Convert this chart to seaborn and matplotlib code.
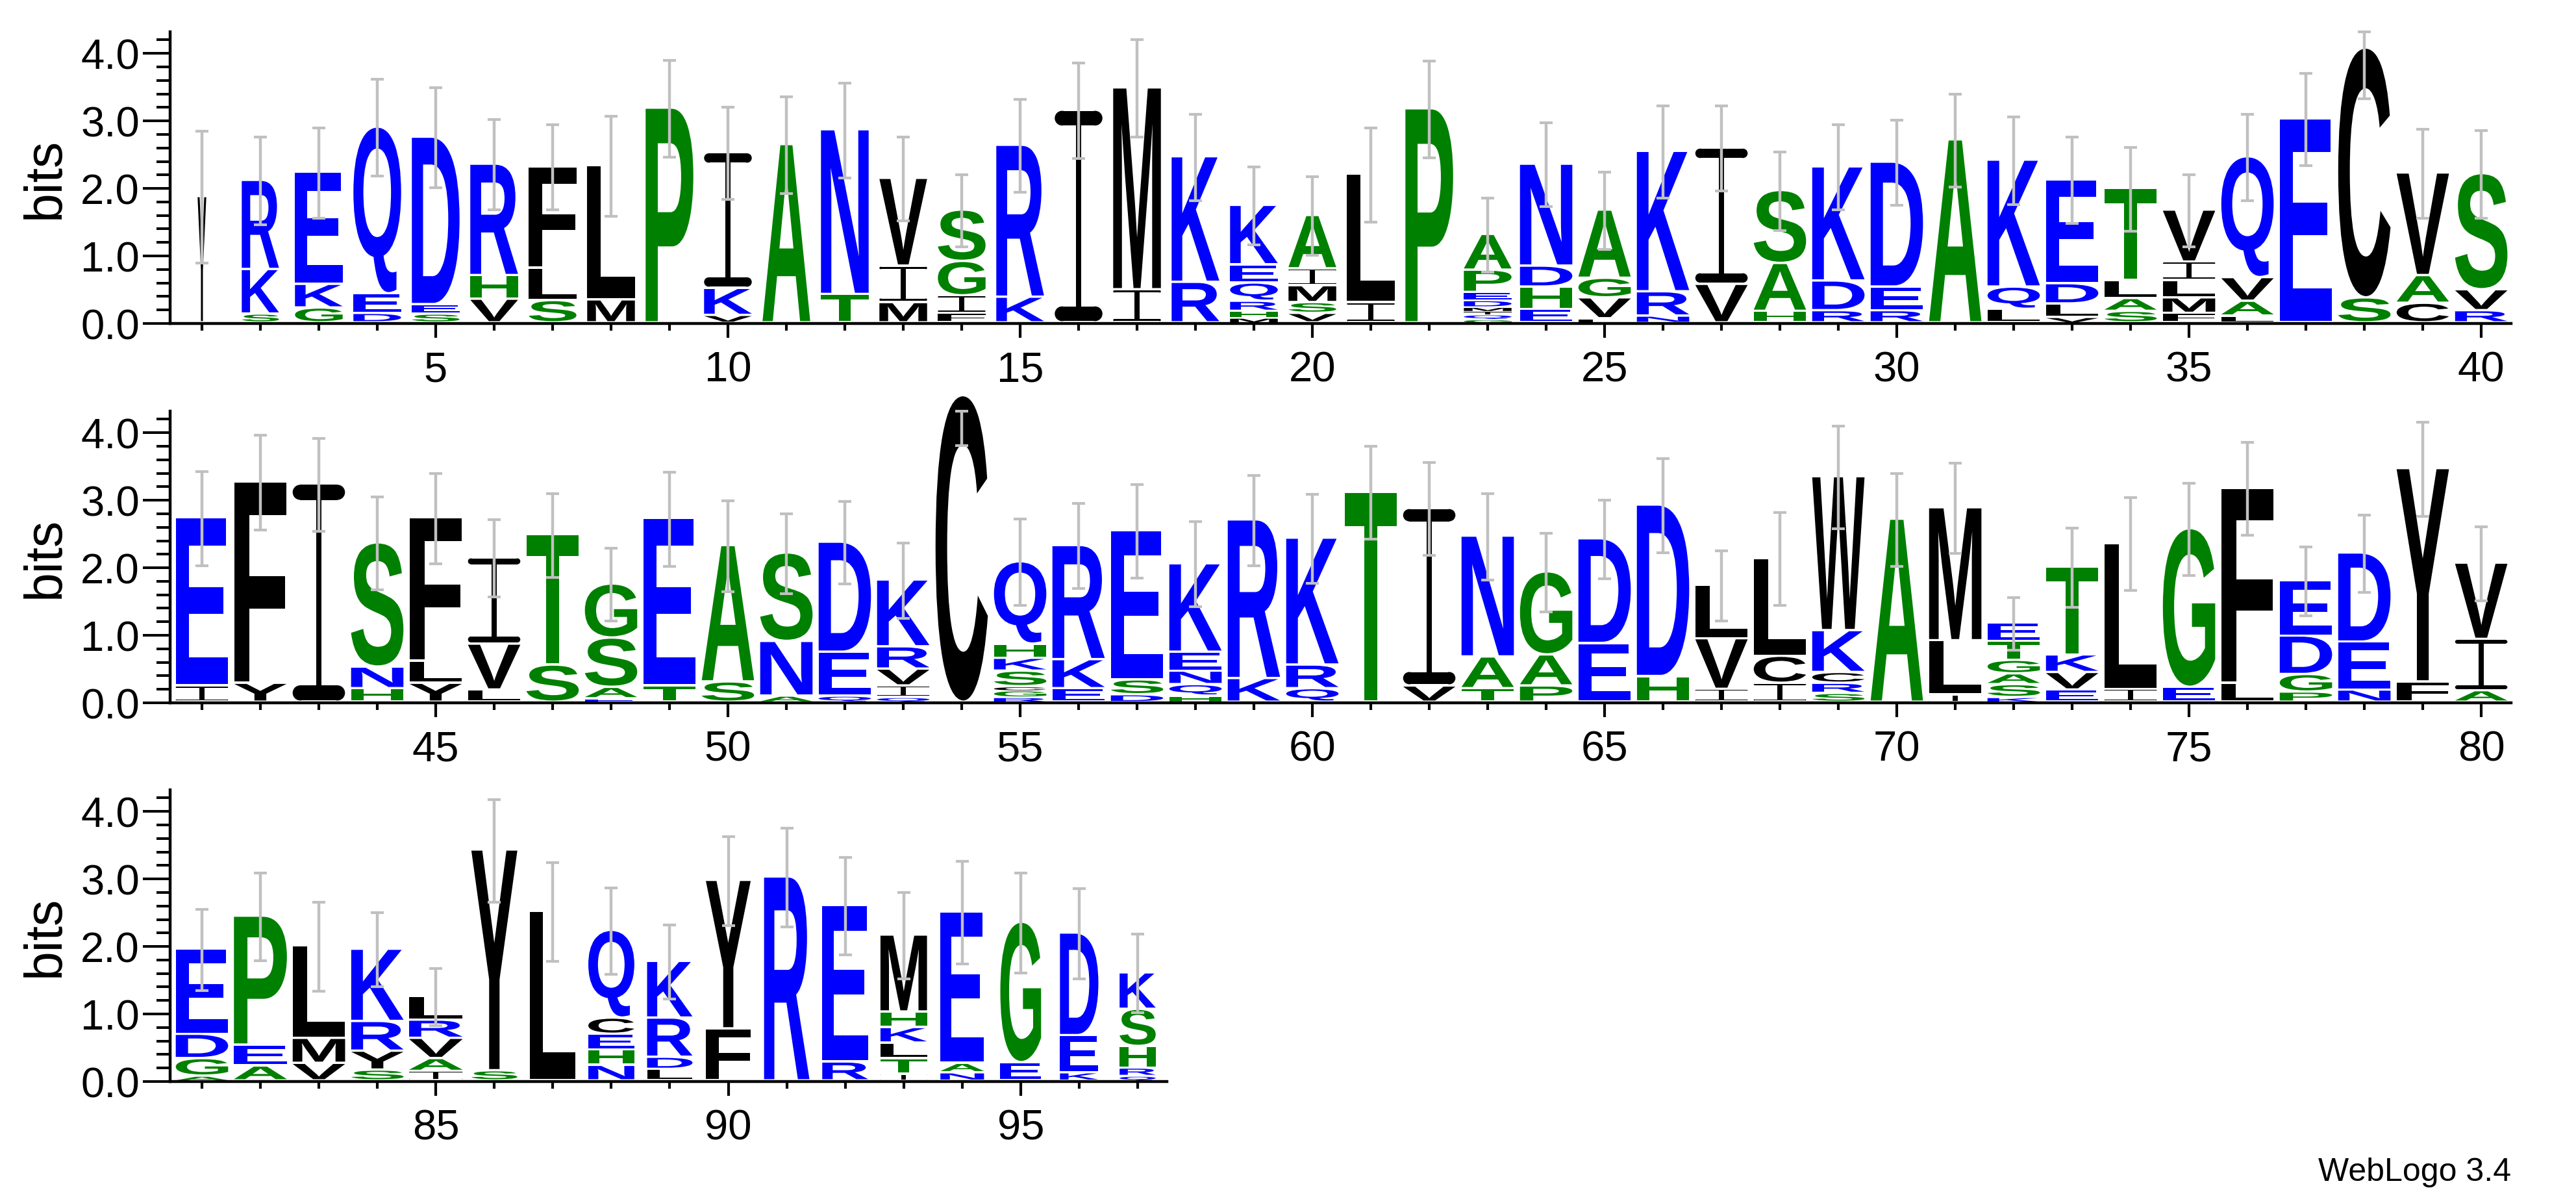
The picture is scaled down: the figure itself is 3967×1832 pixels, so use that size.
import matplotlib
matplotlib.use("Agg")
import matplotlib.pyplot as plt
import seaborn as sns
from matplotlib.textpath import TextPath
from matplotlib.patches import PathPatch, Rectangle, Ellipse
from matplotlib.font_manager import FontProperties
from matplotlib.transforms import Affine2D
from matplotlib.ticker import FixedLocator, MultipleLocator

# ---------------- data ----------------
# letters of each stack listed bottom -> top; tops = cumulative top (bits) of each letter
positions_row1 = list(range(1, 41))
letters_row1 = ["Y", "SKR", "GKE", "DEQ", "SED", "VHR", "SLF", "ML", "P", "VKI",
                "A", "TN", "MIV", "FIGS", "KR", "I", "IM", "RK", "MHRQEK", "VSMIA",
                "IL", "P", "GQIMDEPA", "EHDN", "LVGA", "NRK", "VI", "HAS", "RDK", "RED",
                "A", "LQK", "VLDE", "SALT", "FMLIV", "LAVQ", "E", "SC", "CAV", "RVS"]
tops_row1 = [[1.87], [0.13, 0.79, 2.11], [0.22, 0.57, 2.23], [0.14, 0.43, 2.90],
             [0.13, 0.27, 2.75], [0.35, 0.70, 2.35], [0.33, 0.81, 2.31], [0.34, 2.33],
             [3.18], [0.11, 0.51, 2.52], [2.64], [0.42, 2.86], [0.30, 0.84, 2.14],
             [0.14, 0.40, 0.91, 1.67], [0.38, 2.63], [3.15], [0.49, 3.48], [0.60, 2.46],
             [0.07, 0.17, 0.32, 0.59, 0.86, 1.74], [0.14, 0.30, 0.55, 0.80, 1.59],
             [0.30, 2.20], [3.17], [0.05, 0.12, 0.17, 0.23, 0.33, 0.45, 0.78, 1.31],
             [0.20, 0.53, 0.84, 2.35], [0.06, 0.37, 0.66, 1.67], [0.10, 0.46, 2.54],
             [0.57, 2.59], [0.17, 0.88, 1.96], [0.18, 0.62, 2.31], [0.18, 0.53, 2.38],
             [2.71], [0.20, 0.53, 2.41], [0.08, 0.28, 0.58, 2.12], [0.17, 0.36, 0.63, 1.99],
             [0.14, 0.37, 0.63, 0.90, 1.67], [0.10, 0.32, 0.67, 2.46], [3.02], [0.37, 4.07],
             [0.29, 0.70, 2.22], [0.18, 0.49, 2.21]]
err_row1 = [0.98, 0.65, 0.67, 0.72, 0.74, 0.67, 0.63, 0.74, 0.72, 0.68,
            0.72, 0.70, 0.62, 0.53, 0.69, 0.71, 0.72, 0.64, 0.58, 0.58,
            0.70, 0.72, 0.55, 0.62, 0.57, 0.68, 0.63, 0.58, 0.63, 0.63,
            0.69, 0.65, 0.64, 0.62, 0.53, 0.64, 0.68, 0.74, 0.66, 0.65]
width_row1 = [0.15, 0.64, 0.82, 0.82, 0.82, 0.82, 0.82, 0.82, 0.82, 0.82,
              0.82, 0.82, 0.82, 0.82, 0.82, 0.82, 0.82, 0.82, 0.82, 0.82,
              0.82, 0.82, 0.82, 0.90, 0.90, 0.90, 0.90, 0.90, 0.90, 0.90,
              0.90, 0.90, 0.90, 0.90, 0.90, 0.90, 0.90, 0.90, 0.90, 0.90]

positions_row2 = list(range(41, 81))
letters_row2 = ["IE", "YF", "I", "HNS", "YLF", "LVI", "ST", "EASG", "TE", "SA",
                "ANS", "QED", "QIVRK", "C", "RGCSKHQ", "EKR", "DSE", "HQNEK", "KR", "QRK",
                "T", "VI", "TAN", "PAG", "ED", "HD", "IVL", "ICL", "SRCKW", "A",
                "ILM", "KSAGTE", "EVKT", "IL", "EG", "LF", "PGDE", "NED", "FY", "AIV"]
tops_row2 = [[0.24, 2.73], [0.28, 3.26], [3.23], [0.20, 0.52, 2.36], [0.28, 0.61, 2.73],
             [0.18, 0.86, 2.14], [0.55, 2.48], [0.05, 0.22, 0.95, 1.75], [0.24, 2.72],
             [0.30, 2.32], [0.09, 0.90, 2.21], [0.09, 0.74, 2.37],
             [0.07, 0.24, 0.49, 0.82, 1.81], [4.54],
             [0.07, 0.17, 0.23, 0.46, 0.65, 0.86, 2.08], [0.20, 0.63, 2.32],
             [0.11, 0.33, 2.54], [0.09, 0.26, 0.46, 0.74, 2.05], [0.35, 2.70],
             [0.20, 0.55, 2.43], [3.11], [0.24, 2.87], [0.20, 0.67, 2.46],
             [0.24, 0.70, 1.93], [0.87, 2.42], [0.38, 2.92], [0.19, 0.94, 1.73],
             [0.28, 0.68, 2.13], [0.13, 0.28, 0.44, 1.06, 3.34], [2.71],
             [0.11, 0.91, 2.88], [0.07, 0.26, 0.42, 0.62, 0.90, 1.17],
             [0.18, 0.44, 0.70, 2.00], [0.19, 2.35], [0.22, 2.57], [0.28, 3.17],
             [0.15, 0.41, 0.98, 1.80], [0.18, 0.89, 2.21], [0.30, 3.46], [0.17, 0.93, 2.06]]
err_row2 = [0.70, 0.70, 0.69, 0.69, 0.67, 0.57, 0.62, 0.54, 0.70, 0.67,
            0.59, 0.61, 0.56, 0.73, 0.64, 0.63, 0.69, 0.63, 0.67, 0.66,
            0.69, 0.69, 0.64, 0.58, 0.58, 0.70, 0.52, 0.69, 0.76, 0.69,
            0.67, 0.39, 0.59, 0.69, 0.68, 0.69, 0.51, 0.57, 0.70, 0.55]
width_row2 = [0.90, 0.90, 0.90, 0.90, 0.90, 0.90, 0.90, 0.90, 0.90, 0.90,
              0.90, 0.90, 0.90, 0.90, 0.90, 0.90, 0.90, 0.90, 0.90, 0.90,
              0.90, 0.90, 0.90, 0.90, 0.90, 0.90, 0.90, 0.90, 0.90, 0.90,
              0.90, 0.90, 0.90, 0.90, 0.90, 0.90, 0.90, 0.90, 0.90, 0.90]

positions_row3 = list(range(81, 98))
letters_row3 = ["AGDE", "AEP", "VML", "SYRK", "IAVRL", "SY", "L", "NHECQ", "LDRK",
                "FY", "R", "RE", "ITLKHM", "NAE", "EG", "KED", "QRHSK"]
tops_row3 = [[0.07, 0.33, 0.69, 1.95], [0.22, 0.53, 2.44], [0.26, 0.63, 2.00],
             [0.16, 0.44, 0.88, 1.95], [0.14, 0.33, 0.63, 0.90, 1.25], [0.15, 3.42],
             [2.51], [0.23, 0.46, 0.69, 0.93, 2.23], [0.17, 0.35, 0.93, 1.77],
             [0.77, 2.97], [3.02], [0.28, 2.60], [0.10, 0.33, 0.56, 0.79, 1.02, 2.16],
             [0.12, 0.26, 2.50], [0.27, 2.35], [0.12, 0.67, 2.19],
             [0.07, 0.19, 0.51, 1.06, 1.60]]
err_row3 = [0.60, 0.65, 0.66, 0.55, 0.42, 0.76, 0.73, 0.64, 0.55, 0.66,
            0.73, 0.72, 0.64, 0.76, 0.74, 0.67, 0.58]
width_row3 = [0.90, 0.91, 0.90, 0.90, 0.92, 0.79, 0.78, 0.79, 0.78, 0.77,
              0.78, 0.79, 0.80, 0.75, 0.70, 0.66, 0.62]

y_max_bits = 4.32
yticks = [0.0, 1.0, 2.0, 3.0, 4.0]
ytick_labels = ["0.0", "1.0", "2.0", "3.0", "4.0"]

# hydrophobicity colour scheme
color_groups = {"RKDENQ": "#0000FF", "SGHTAP": "#008000", "YVMCLFIW": "#000000"}
letter_color = {c: col for grp, col in color_groups.items() for c in grp}

# ---------------- styling ----------------
sns.set_theme(style="ticks", rc={"axes.edgecolor": "black", "xtick.color": "black",
                                 "ytick.color": "black", "text.color": "black",
                                 "axes.labelcolor": "black"})
plt.rcParams["font.family"] = ["Liberation Sans", "DejaVu Sans"]

FP_SANS = FontProperties(family="Liberation Sans", weight="bold")
_glyphs = {}

W, H = 3967.0, 1833.0
PX_PER_BIT = 449.0 / 4.32
PX_PER_POS = 3605.0 / 40.054


def glyph(ch):
    if ch not in _glyphs:
        p = TextPath((0, 0), ch, size=1, prop=FP_SANS)
        _glyphs[ch] = (p, p.get_extents())
    return _glyphs[ch]


def add(ax, patch):
    patch.set_clip_on(False)
    patch.set_zorder(2)
    ax.add_patch(patch)


def draw_I(ax, xc, yb, w, hh, col):
    # WebLogo style I-beam: thin stem, rounded serif bars
    bar = 0.07 * hh
    stem = 0.10 * w
    add(ax, Rectangle((xc - stem / 2, yb + bar / 2), stem, hh - bar, fc=col, ec="none", lw=0))
    rx = min((bar / 2) * PX_PER_BIT / PX_PER_POS, w / 4)
    for yy in (yb, yb + hh - bar):
        add(ax, Rectangle((xc - w / 2 + rx, yy), w - 2 * rx, bar, fc=col, ec="none", lw=0))
        for ex in (xc - w / 2 + rx, xc + w / 2 - rx):
            add(ax, Ellipse((ex, yy + bar / 2), 2 * rx, bar, fc=col, ec="none", lw=0))


def draw_letter(ax, ch, xc, y0, w, h):
    gap = min(0.035, 0.25 * h)
    hh = h - gap
    col = letter_color[ch]
    if ch == "I":
        draw_I(ax, xc, y0 + gap, w, hh, col)
        return
    p, ext = glyph(ch)
    t = (Affine2D().translate(-ext.x0, -ext.y0)
         .scale(w / ext.width, hh / ext.height)
         .translate(xc - w / 2.0, y0 + gap))
    add(ax, PathPatch(t.transform_path(p), facecolor=col, edgecolor="none", lw=0))


fig = plt.figure(figsize=(39.67, 18.33), dpi=100)
ax_h = 449.0 / H
rows = [
    (positions_row1, letters_row1, tops_row1, err_row1, width_row1, (0.456, 40.51),
     [262 / W, 1 - 499 / H, 3605 / W, ax_h]),
    (positions_row2, letters_row2, tops_row2, err_row2, width_row2, (40.456, 80.51),
     [262 / W, 1 - 1083 / H, 3605 / W, ax_h]),
    (positions_row3, letters_row3, tops_row3, err_row3, width_row3, (80.456, 97.5),
     [262 / W, 1 - 1666 / H, 1535 / W, ax_h]),
]

for pos, letters, tops, errs, widths, xlim, rect in rows:
    ax = fig.add_axes(rect)
    ax.set_facecolor("white")
    for x, lets, tp, w in zip(pos, letters, tops, widths):
        prev = 0.0
        for ch, top in zip(lets, tp):
            draw_letter(ax, ch, x, prev, w * 0.995, top - prev)
            prev = top
    # error bars (clipped at the max bits value like WebLogo)
    centers = [tp[-1] for tp in tops]
    lo = [c - e for c, e in zip(centers, errs)]
    hi = [min(c + e, y_max_bits) for c, e in zip(centers, errs)]
    mid = [(a + b) / 2 for a, b in zip(lo, hi)]
    half = [(b - a) / 2 for a, b in zip(lo, hi)]
    ax.errorbar(pos, mid, yerr=half, fmt="none", ecolor="#c0c0c0", elinewidth=3.2,
                capsize=7.5, capthick=3.0, zorder=3, clip_on=False)

    ax.set_xlim(*xlim)
    ax.set_ylim(0, y_max_bits)
    sns.despine(ax=ax)
    for s in ("left", "bottom"):
        ax.spines[s].set_linewidth(3.2)
        ax.spines[s].set_color("black")
    ax.yaxis.set_major_locator(FixedLocator(yticks))
    ax.set_yticklabels(ytick_labels)
    ax.yaxis.set_minor_locator(MultipleLocator(0.2))
    xt = [p for p in pos if p % 5 == 0]
    ax.xaxis.set_major_locator(FixedLocator(xt))
    ax.set_xticklabels([str(p) for p in xt])
    ax.xaxis.set_minor_locator(FixedLocator(pos))
    ax.tick_params(axis="y", which="major", length=30, width=2.9, direction="out",
                   labelsize=47, pad=4, colors="black")
    ax.tick_params(axis="y", which="minor", length=15, width=2.9, direction="out")
    ax.tick_params(axis="x", which="major", length=16, width=3.0, direction="out",
                   labelsize=47, pad=14, colors="black")
    ax.tick_params(axis="x", which="minor", length=8, width=3.0, direction="out")
    ax.grid(False)
    fig.text(70 / W, (rect[1] + rect[3] / 2), "bits", rotation=90, ha="center",
             va="center", fontsize=58)

fig.text(3867 / W, 1 - 1818 / H, "WebLogo 3.4", ha="right", va="baseline", fontsize=36)

fig.savefig("out.png", dpi=100, facecolor="white")
